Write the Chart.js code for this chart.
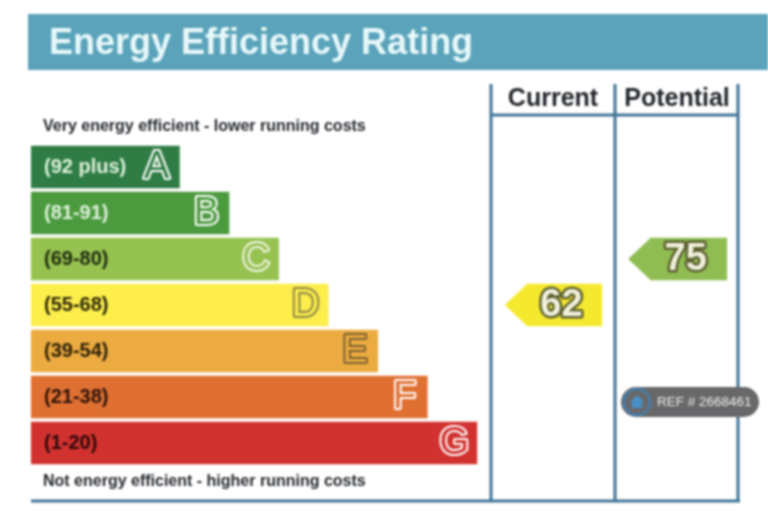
<html>
<head>
  <title>Energy Efficiency Rating</title>
  <script src="https://cdnjs.cloudflare.com/ajax/libs/Chart.js/4.4.1/chart.umd.js"></script>
  <style>
  body { margin: 0; background: #fff; }
  canvas { display: block; filter: blur(0.8px); }
  </style>
</head>
<body>
  <canvas id="epc" width="768" height="516"></canvas>
  <script>
    // rating bands, best first
    var bands = ['A', 'B', 'C', 'D', 'E', 'F', 'G'];
    var ranges = ['(92 plus)', '(81-91)', '(69-80)', '(55-68)', '(39-54)', '(21-38)', '(1-20)'];
    var lowerBounds = [92, 81, 69, 55, 39, 21, 1];
    var barLengths = [3, 4, 5, 6, 7, 8, 9];
    var barColours = ['#2f7d45', '#4b9a3e', '#96c250', '#fdee4c', '#ecab40', '#e07032', '#d1322f'];
    var rangeColours = ['#dff2dc', '#dff2dc', '#1f2a10', '#2a2608', '#2a1f08', '#2a1208', '#2a0808'];
    var letterInk = ['#ffffff', '#ffffff', '#f2f5e6', '#8a8448', '#7a6230', '#ffffff', '#ffffff'];

    var currentScore = 62;
    var potentialScore = 75;
    var currentSpan = [10, 11.52];
    var potentialSpan = [12.49, 14.04];

    function rowFor(score) {
      return lowerBounds.findIndex(function (low) { return score >= low; });
    }
    function tagData(score, span) {
      return bands.map(function (b, i) { return i === rowFor(score) ? span : null; });
    }

    var lineBlue = '#3f7396';
    var sans = '"Liberation Sans", Arial, Helvetica, sans-serif';

    // header, captions, table lines and the ref badge
    var frame = {
      id: 'frame',
      beforeDatasetsDraw: function (chart) {
        var c = chart.ctx;
        c.save();
        c.fillStyle = '#5aa3ba';
        c.fillRect(28, 14, 740, 56);
        c.fillStyle = '#e8f8fa';
        c.font = 'bold 36px ' + sans;
        c.textAlign = 'left';
        c.textBaseline = 'alphabetic';
        c.fillText('Energy Efficiency Rating', 49, 54);

        c.fillStyle = '#22262b';
        c.font = 'bold 16px ' + sans;
        c.fillText('Very energy efficient - lower running costs', 43, 131);
        c.fillText('Not energy efficient - higher running costs', 43, 486);

        c.font = 'bold 25px ' + sans;
        c.textAlign = 'center';
        c.fillText('Current', 553, 106);
        c.fillText('Potential', 677, 106);

        c.strokeStyle = lineBlue;
        c.lineWidth = 3;
        c.beginPath();
        [491, 615, 738].forEach(function (x) {
          c.moveTo(x, 84);
          c.lineTo(x, 501);
        });
        c.moveTo(491, 115);
        c.lineTo(738, 115);
        c.moveTo(31, 501);
        c.lineTo(740, 501);
        c.stroke();
        c.restore();
      },
      afterDraw: function (chart) {
        var c = chart.ctx;
        c.save();
        c.fillStyle = '#68686a';
        c.beginPath();
        c.roundRect(621, 387, 138, 30, 15);
        c.fill();
        c.strokeStyle = '#3f82b8';
        c.lineWidth = 2;
        c.beginPath();
        c.arc(637, 402, 13, 0, Math.PI * 2);
        c.stroke();
        c.fillStyle = '#4a90c8';
        c.beginPath();
        c.moveTo(630, 402);
        c.lineTo(637, 395);
        c.lineTo(644, 402);
        c.lineTo(642, 402);
        c.lineTo(642, 408);
        c.lineTo(632, 408);
        c.lineTo(632, 402);
        c.closePath();
        c.fill();
        c.fillStyle = '#f0f0f0';
        c.font = '13.5px ' + sans;
        c.textAlign = 'left';
        c.textBaseline = 'middle';
        c.fillText('REF # 2668461', 657, 402);
        c.restore();
      }
    };

    // outlined letters on the bars, arrow heads and numbers on the tags
    var overlays = {
      id: 'overlays',
      afterDatasetsDraw: function (chart) {
        var c = chart.ctx;
        c.save();
        c.textAlign = 'center';
        c.textBaseline = 'middle';
        c.lineJoin = 'round';

        chart.getDatasetMeta(0).data.forEach(function (bar, i) {
          c.font = '38px ' + sans;
          c.lineWidth = 4;
          c.strokeStyle = letterInk[i];
          c.strokeText(bands[i], bar.x - 23, bar.y + 1);
          c.fillStyle = barColours[i];
          c.fillText(bands[i], bar.x - 23, bar.y + 1);
        });

        [[1, currentScore], [2, potentialScore]].forEach(function (tag) {
          var bar = chart.getDatasetMeta(tag[0]).data[rowFor(tag[1])];
          var top = bar.y - bar.height / 2;
          var bottom = bar.y + bar.height / 2;
          c.fillStyle = chart.data.datasets[tag[0]].backgroundColor;
          c.beginPath();
          c.moveTo(bar.base + 0.5, top);
          c.lineTo(bar.base - 22, bar.y);
          c.lineTo(bar.base + 0.5, bottom);
          c.closePath();
          c.fill();

          var mid = (bar.base - 22 + bar.x) / 2 + 8;
          c.font = 'bold 38px ' + sans;
          c.lineWidth = 5;
          c.strokeStyle = '#5c5f30';
          c.strokeText(String(tag[1]), mid, bar.y + 1);
          c.fillStyle = '#f1f1dc';
          c.fillText(String(tag[1]), mid, bar.y + 1);
        });
        c.restore();
      }
    };

    new Chart(document.getElementById('epc'), {
      type: 'bar',
      data: {
        labels: bands,
        datasets: [
          { label: 'Band', data: barLengths, backgroundColor: barColours },
          { label: 'Current', data: tagData(currentScore, currentSpan), backgroundColor: '#f5e92f' },
          { label: 'Potential', data: tagData(potentialScore, potentialSpan), backgroundColor: '#8fbd52' }
        ]
      },
      options: {
        indexAxis: 'y',
        responsive: false,
        animation: false,
        devicePixelRatio: 1,
        layout: { padding: { left: 31, right: 33, top: 144, bottom: 50 } },
        datasets: { bar: { grouped: false, categoryPercentage: 1, barPercentage: 0.92 } },
        plugins: { legend: { display: false }, tooltip: { enabled: false } },
        scales: {
          x: { display: false, min: 0, max: 14.2 },
          y: {
            afterFit: function (scale) { scale.width = 0; },
            grid: { display: false },
            border: { display: false },
            ticks: {
              z: 1,
              mirror: true,
              padding: 13,
              font: { family: sans, size: 20, weight: 'bold' },
              color: function (ctx) { return rangeColours[ctx.index]; },
              callback: function (v, i) { return ranges[i]; }
            }
          }
        }
      },
      plugins: [frame, overlays]
    });
  </script>
</body>
</html>
